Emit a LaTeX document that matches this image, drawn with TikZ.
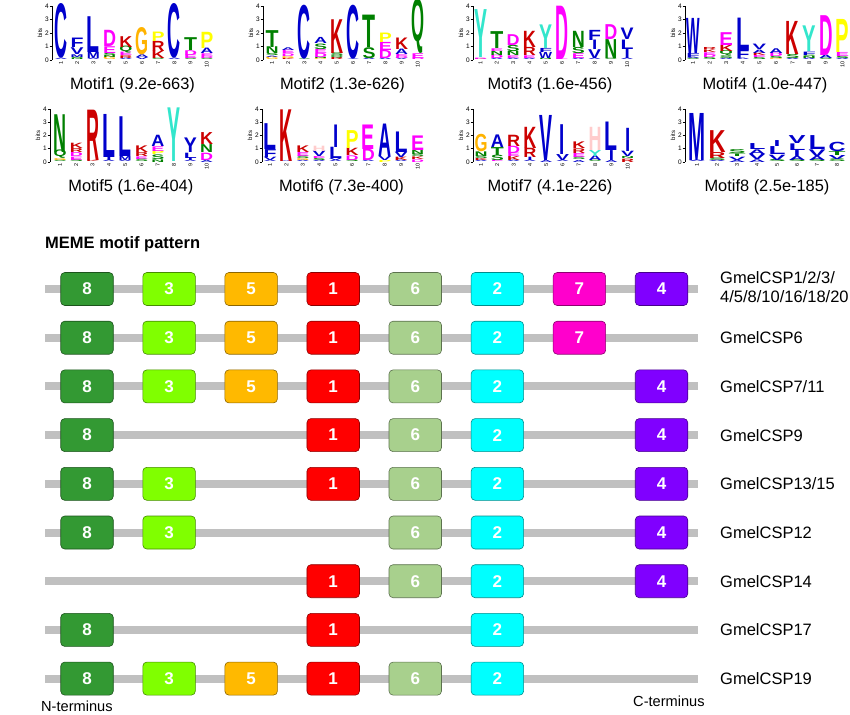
\documentclass[tikz,border=0pt]{standalone}
\usepackage{fontspec}
\setmainfont{Liberation Sans}
\usepackage{graphicx}
% logo letter colours
\definecolor{lgblue}{RGB}{0,0,204}
\definecolor{lggreen}{RGB}{0,128,0}
\definecolor{lgmag}{RGB}{255,0,255}
\definecolor{lgred}{RGB}{204,0,0}
\definecolor{lgpink}{RGB}{255,204,204}
\definecolor{lgorange}{RGB}{255,179,0}
\definecolor{lgyellow}{RGB}{255,255,0}
\definecolor{lgturq}{RGB}{51,230,204}
\colorlet{cA}{lgblue}\colorlet{cC}{lgblue}\colorlet{cF}{lgblue}\colorlet{cI}{lgblue}
\colorlet{cL}{lgblue}\colorlet{cM}{lgblue}\colorlet{cV}{lgblue}\colorlet{cW}{lgblue}
\colorlet{cN}{lggreen}\colorlet{cQ}{lggreen}\colorlet{cS}{lggreen}\colorlet{cT}{lggreen}
\colorlet{cD}{lgmag}\colorlet{cE}{lgmag}\colorlet{cK}{lgred}\colorlet{cR}{lgred}
\colorlet{cH}{lgpink}\colorlet{cG}{lgorange}\colorlet{cP}{lgyellow}\colorlet{cY}{lgturq}
% motif box colours
\definecolor{m8}{RGB}{51,153,51}
\definecolor{m3}{RGB}{128,255,0}
\definecolor{m5}{RGB}{255,185,0}
\definecolor{m1}{RGB}{255,0,0}
\definecolor{m6}{RGB}{168,208,141}
\definecolor{m2}{RGB}{0,255,255}
\definecolor{m7}{RGB}{255,0,204}
\definecolor{m4}{RGB}{128,0,255}
\definecolor{lineg}{RGB}{192,192,192}
% logo macros
\newcommand\LgSet[6]{\xdef\lax{#1}\xdef\lzero{#2}\xdef\lbit{#3}\xdef\lsp{#4}\xdef\loff{#5}\xdef\lw{#6}}
\newcommand\LgAxis[1]{%
  \draw[axisline] (\lax,\lzero) -- ({\lax},{\lzero-4*\lbit});
  \foreach \k in {0,...,4}{%
    \draw[axisline] ({\lax-2.5},{\lzero-\k*\lbit}) -- ({\lax},{\lzero-\k*\lbit});
    \node[ticklab,anchor=east] at ({\lax-2.5},{\lzero-\k*\lbit}) {\k};}
  \node[bitslab,rotate=90] at ({\lax-12},{\lzero-2*\lbit}) {bits};
  \foreach \k in {1,...,#1}{%
    \node[numlab,rotate=90,anchor=east] at ({\lax+\loff+(\k-1)*\lsp},{\lzero+1.5}) {\k};}}
\newcommand\LgCol[1]{\pgfmathsetmacro\tmpx{\lax+\loff+(#1-1)*\lsp}\xdef\cx{\tmpx}\xdef\cy{\lzero}}
\newcommand\LgC[3]{%
  \pgfmathsetmacro\hh{#2*\lbit}%
  \if#1I\pgfmathsetmacro\ww{\lw*0.4}\else\pgfmathsetmacro\ww{\lw}\fi
  \node[inner sep=0pt,outer sep=0pt,anchor=south,text=#3] at (\cx,\cy) {\resizebox{\ww pt}{\hh pt}{\bfseries #1}};%
  \pgfmathsetmacro\tmpy{\cy-\hh}\xdef\cy{\tmpy}}
\newcommand\Lg[2]{\LgC{#1}{#2}{c#1}}
\begin{document}
\begin{tikzpicture}[x=1pt,y=-1pt,
  axisline/.style={line width=0.6pt,black},
  ticklab/.style={inner sep=0.5pt,font=\fontsize{6.5}{6.5}\selectfont},
  bitslab/.style={inner sep=0pt,font=\fontsize{6}{6}\selectfont},
  numlab/.style={inner sep=0pt,font=\fontsize{5.5}{5.5}\selectfont},
  caption/.style={inner sep=0pt,anchor=base,font=\fontsize{16.4}{18}\selectfont},
  mbox/.style={fill=#1,draw=#1!55!black,line width=0.6pt,rounded corners=4pt,
    minimum width=52.5pt,minimum height=33pt,inner sep=0pt,text=white,
    font=\bfseries\fontsize{17}{17}\selectfont},
  gline/.style={line width=8pt,lineg},
  lab/.style={inner sep=0pt,anchor=base west,font=\fontsize{16.5}{19}\selectfont},
  term/.style={inner sep=0pt,anchor=west,font=\fontsize{14.6}{16}\selectfont}]
\useasboundingbox (0,0) rectangle (850,714);
\fill[white] (0,0) rectangle (850,714);

% ---------- Motif 1 ----------
\LgSet{52}{60}{13.5}{16.2}{9}{13}
\LgAxis{10}
\LgCol{1}\Lg{A}{.1}\Lg{C}{4.0}
\LgCol{2}\Lg{N}{.1}\Lg{S}{.1}\Lg{M}{.2}\Lg{V}{.5}\Lg{F}{.7}
\LgCol{3}\Lg{A}{.1}\Lg{M}{.45}\Lg{L}{2.65}
\LgCol{4}\Lg{G}{.2}\Lg{N}{.15}\Lg{S}{.15}\Lg{E}{.5}\Lg{D}{1.2}
\LgCol{5}\Lg{A}{.1}\Lg{R}{.2}\Lg{E}{.25}\Lg{Q}{.4}\Lg{K}{.8}
\LgCol{6}\Lg{V}{.15}\Lg{A}{.2}\Lg{G}{2.0}
\LgCol{7}\Lg{S}{.1}\Lg{K}{.55}\Lg{R}{.75}\Lg{P}{.7}
\LgCol{8}\Lg{A}{.1}\Lg{C}{4.0}
\LgCol{9}\Lg{S}{.1}\Lg{E}{.25}\Lg{D}{.35}\Lg{T}{.95}
\LgCol{10}\Lg{S}{.1}\Lg{D}{.15}\Lg{E}{.2}\Lg{A}{.4}\Lg{P}{1.2}
\node[caption] (cap1) at (132.5,89.3) {Motif1 (9.2e-663)};

% ---------- Motif 2 ----------
\LgSet{263}{60}{13.5}{16.2}{9}{13}
\LgAxis{10}
\LgCol{1}\Lg{G}{.2}\Lg{A}{.1}\Lg{S}{.15}\Lg{N}{.5}\Lg{T}{1.25}
\LgCol{2}\Lg{K}{.1}\Lg{G}{.15}\Lg{D}{.2}\Lg{E}{.25}\Lg{A}{.2}
\LgCol{3}\Lg{S}{.05}\Lg{C}{3.95}
\LgCol{4}\Lg{G}{.1}\Lg{N}{.1}\Lg{D}{.3}\Lg{E}{.3}\Lg{S}{.4}\Lg{A}{.45}
\LgCol{5}\Lg{R}{.15}\Lg{Q}{.15}\Lg{S}{.2}\Lg{K}{2.5}
\LgCol{6}\Lg{A}{.05}\Lg{C}{3.95}
\LgCol{7}\Lg{A}{.1}\Lg{S}{.8}\Lg{T}{2.4}
\LgCol{8}\Lg{A}{.1}\Lg{D}{.6}\Lg{E}{.6}\Lg{P}{.7}
\LgCol{9}\Lg{V}{.1}\Lg{D}{.15}\Lg{E}{.15}\Lg{A}{.4}\Lg{K}{.85}
\LgCol{10}\Lg{D}{.1}\Lg{E}{.35}\Lg{Q}{3.15}
\node[caption] (cap2) at (342.5,89.3) {Motif2 (1.3e-626)};

% ---------- Motif 3 ----------
\LgSet{473}{60}{13.5}{16.3}{7.5}{13}
\LgAxis{10}
\LgCol{1}\Lg{K}{.05}\Lg{D}{.1}\Lg{Y}{3.55}
\LgCol{2}\Lg{A}{.1}\Lg{D}{.25}\Lg{N}{.3}\Lg{E}{.2}\Lg{T}{1.25}
\LgCol{3}\Lg{A}{.1}\Lg{E}{.2}\Lg{N}{.3}\Lg{S}{.45}\Lg{D}{.8}
\LgCol{4}\Lg{A}{.1}\Lg{E}{.2}\Lg{R}{.6}\Lg{K}{1.2}
\LgCol{5}\Lg{N}{.1}\Lg{W}{.45}\Lg{F}{.3}\Lg{Y}{1.75}
\LgCol{6}\Lg{E}{.05}\Lg{D}{3.95}
\LgCol{7}\Lg{A}{.1}\Lg{E}{.35}\Lg{S}{.45}\Lg{N}{1.2}
\LgCol{8}\Lg{A}{.1}\Lg{V}{.65}\Lg{I}{.7}\Lg{F}{.75}
\LgCol{9}\Lg{S}{.1}\Lg{N}{1.4}\Lg{D}{1.1}
\LgCol{10}\Lg{A}{.1}\Lg{I}{.7}\Lg{L}{.7}\Lg{V}{.85}
\node[caption] (cap3) at (550,89.3) {Motif3 (1.6e-456)};

% ---------- Motif 4 ----------
\LgSet{685}{60}{13.5}{16.6}{8}{13.5}
\LgAxis{10}
\LgCol{1}\Lg{S}{.1}\Lg{A}{.1}\Lg{F}{.3}\Lg{W}{2.6}
\LgCol{2}\Lg{S}{.15}\Lg{D}{.2}\Lg{E}{.2}\Lg{K}{.2}\Lg{R}{.15}
\LgCol{3}\Lg{A}{.1}\Lg{S}{.2}\Lg{Q}{.3}\Lg{K}{.45}\Lg{E}{.95}
\LgCol{4}\Lg{A}{.1}\Lg{F}{.6}\Lg{L}{2.4}
\LgCol{5}\Lg{S}{.15}\Lg{E}{.15}\Lg{K}{.2}\Lg{A}{.25}\Lg{V}{.4}
\LgCol{6}\Lg{G}{.1}\Lg{S}{.15}\Lg{D}{.25}\Lg{A}{.35}
\LgCol{7}\Lg{A}{.1}\Lg{S}{.3}\Lg{K}{2.45}
\LgCol{8}\Lg{A}{.1}\Lg{N}{.15}\Lg{S}{.1}\Lg{F}{.25}\Lg{Y}{1.9}
\LgCol{9}\Lg{S}{.1}\Lg{A}{.25}\Lg{D}{2.95}
\LgCol{10}\Lg{A}{.1}\Lg{S}{.15}\Lg{E}{.3}\Lg{P}{2.45}
\node[caption] (cap4) at (765,89.3) {Motif4 (1.0e-447)};

% ---------- Motif 5 ----------
\LgSet{50}{162}{13.25}{16.3}{10}{13}
\LgAxis{10}
\LgCol{1}\Lg{S}{.1}\Lg{G}{.15}\Lg{Q}{.5}\Lg{N}{2.85}
\LgCol{2}\Lg{S}{.15}\Lg{E}{.25}\Lg{D}{.3}\Lg{R}{.3}\Lg{K}{.4}
\LgCol{3}\Lg{K}{.1}\Lg{R}{3.8}
\LgCol{4}\Lg{A}{.1}\Lg{I}{.25}\Lg{L}{3.25}
\LgCol{5}\Lg{A}{.1}\Lg{M}{.3}\Lg{L}{3.0}
\LgCol{6}\Lg{S}{.2}\Lg{E}{.2}\Lg{R}{.3}\Lg{K}{.5}
\LgCol{7}\Lg{N}{.2}\Lg{S}{.35}\Lg{P}{.25}\Lg{E}{.35}\Lg{A}{.85}
\LgCol{8}\Lg{Y}{4.05}
\LgCol{9}\Lg{A}{.1}\Lg{I}{.2}\Lg{L}{.4}\LgC{Y}{1.1}{lgblue}
\LgCol{10}\Lg{A}{.15}\Lg{D}{.55}\Lg{N}{.6}\Lg{K}{.9}
\node[caption] (cap5) at (130.8,191.5) {Motif5 (1.6e-404)};

% ---------- Motif 6 ----------
\LgSet{262}{162}{13.25}{16.4}{8}{13}
\LgAxis{10}
\LgCol{1}\Lg{A}{.1}\Lg{V}{.25}\Lg{F}{.6}\Lg{L}{1.95}
\LgCol{2}\Lg{A}{.05}\Lg{K}{3.9}
\LgCol{3}\Lg{A}{.1}\Lg{G}{.15}\Lg{S}{.2}\Lg{E}{.3}\Lg{K}{.5}
\LgCol{4}\Lg{A}{.1}\Lg{S}{.15}\Lg{E}{.15}\Lg{V}{.4}\Lg{H}{.4}
\LgCol{5}\Lg{A}{.1}\Lg{V}{.15}\Lg{L}{.85}\Lg{I}{1.7}
\LgCol{6}\Lg{S}{.15}\Lg{D}{.35}\Lg{K}{.55}\Lg{P}{1.35}
\LgCol{7}\Lg{A}{.1}\Lg{D}{.85}\Lg{E}{1.85}
\LgCol{8}\Lg{P}{.15}\Lg{V}{.3}\Lg{A}{2.45}
\LgCol{9}\Lg{A}{.1}\Lg{K}{.25}\Lg{V}{.4}\Lg{L}{1.55}
\LgCol{10}\Lg{D}{.2}\Lg{K}{.2}\Lg{S}{.2}\Lg{N}{.3}\Lg{E}{1.1}
\node[caption] (cap6) at (341.5,191.5) {Motif6 (7.3e-400)};

% ---------- Motif 7 ----------
\LgSet{473}{162}{13.25}{16.3}{8}{13}
\LgAxis{10}
\LgCol{1}\Lg{A}{.1}\Lg{K}{.15}\Lg{S}{.2}\Lg{N}{.35}\Lg{G}{1.3}
\LgCol{2}\Lg{E}{.1}\Lg{S}{.4}\Lg{T}{.6}\Lg{A}{.95}
\LgCol{3}\Lg{A}{.1}\Lg{K}{.3}\Lg{E}{.25}\Lg{D}{.55}\Lg{R}{.85}
\LgCol{4}\Lg{A}{.1}\Lg{I}{.25}\Lg{R}{.7}\Lg{K}{1.6}
\LgCol{5}\Lg{A}{.15}\Lg{V}{3.4}
\LgCol{6}\Lg{A}{.1}\Lg{V}{.45}\Lg{I}{2.25}
\LgCol{7}\Lg{A}{.15}\Lg{S}{.2}\Lg{E}{.3}\Lg{R}{.35}\Lg{K}{.5}
\LgCol{8}\Lg{S}{.1}\Lg{A}{.35}\Lg{Y}{.45}\Lg{H}{1.75}
\LgCol{9}\Lg{A}{.15}\Lg{I}{.75}\Lg{L}{2.15}
\LgCol{10}\Lg{R}{.25}\Lg{N}{.15}\Lg{V}{.4}\Lg{I}{1.75}
\node[caption] (cap7) at (550,191.5) {Motif7 (4.1e-226)};

% ---------- Motif 8 ----------
\LgSet{685}{162}{13.25}{20}{12}{17}
\LgAxis{8}
\LgCol{1}\Lg{A}{.1}\Lg{M}{3.55}
\LgCol{2}\Lg{A}{.1}\Lg{S}{.2}\Lg{R}{.45}\Lg{K}{1.65}
\LgCol{3}\Lg{A}{.15}\Lg{V}{.25}\Lg{T}{.2}\Lg{S}{.3}
\LgCol{4}\Lg{A}{.2}\Lg{V}{.4}\Lg{A}{.35}\Lg{L}{.45}
\LgCol{5}\Lg{S}{.15}\Lg{V}{.4}\Lg{L}{.6}\Lg{I}{.45}
\LgCol{6}\Lg{S}{.15}\Lg{A}{.3}\Lg{I}{.45}\Lg{L}{.5}\Lg{V}{.6}
\LgCol{7}\Lg{S}{.15}\Lg{A}{.3}\Lg{V}{.5}\Lg{L}{1.05}
\LgCol{8}\Lg{S}{.2}\Lg{V}{.3}\Lg{T}{.3}\Lg{C}{.7}
\node[caption] (cap8) at (767,191.5) {Motif8 (2.5e-185)};

% ---------- MEME motif pattern ----------
\node[inner sep=0pt,anchor=base west,font=\bfseries\fontsize{16.5}{18}\selectfont] (title) at (45,248) {MEME motif pattern};

\foreach \r in {1,...,9}{%
  \coordinate (rs\r) at (45,{289+48.7*(\r-1)});
  \coordinate (re\r) at (698,{289+48.7*(\r-1)});
  \draw[gline] (rs\r) -- (re\r);}

\foreach \r/\slots in {1/{1,2,3,4,5,6,7,8},2/{1,2,3,4,5,6,7},3/{1,2,3,4,5,6,8},4/{1,4,5,6,8},
  5/{1,2,4,5,6,8},6/{1,2,5,6,8},7/{4,5,6,8},8/{1,4,6},9/{1,2,3,4,5,6}}{%
  \foreach \s in \slots {%
    \pgfmathtruncatemacro\dg{{8,3,5,1,6,2,7,4}[\s-1]}%
    \node[mbox=m\dg] (b\r-\s) at ({87+82.07*(\s-1)},{289+48.7*(\r-1)}) {\dg};}}

\node[lab] (l1a) at (720,283) {GmelCSP1/2/3/};
\node[lab] (l1b) at (720,302) {4/5/8/10/16/18/20};
\foreach \r/\t in {2/GmelCSP6,3/GmelCSP7\slash 11,4/GmelCSP9,5/GmelCSP13\slash 15,6/GmelCSP12,
  7/GmelCSP14,8/GmelCSP17,9/GmelCSP19}{%
  \node[lab] (l\r) at (720,{289+48.7*(\r-1)+5.9}) {\t};}

\node[term] (nterm) at (41,706.7) {N-terminus};
\node[term] (cterm) at (633,701.5) {C-terminus};
\end{tikzpicture}
\end{document}
